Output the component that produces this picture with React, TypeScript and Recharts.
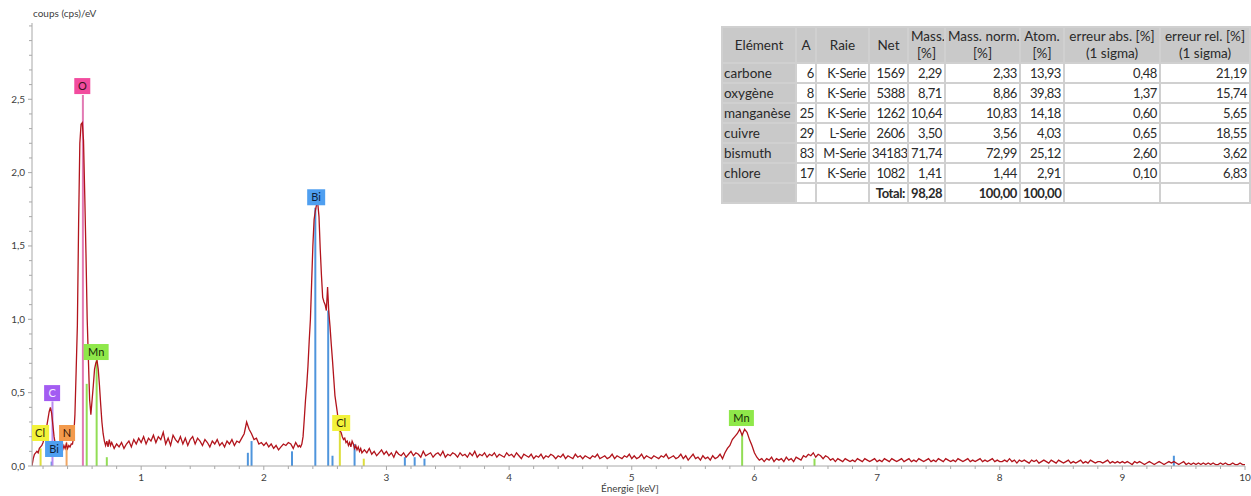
import React from 'react';
import { ComposedChart, Line, Scatter, XAxis, YAxis, ReferenceLine } from 'recharts';

// spectrum (counts per eV), in channel blocks
// 0.11 .. 0.75 keV, 0.01 keV channels
const countsLow = [
  0.0, 0.05, 0.08, 0.09, 0.1, 0.09, 0.12, 0.13, 0.14, 0.16,
  0.19, 0.22, 0.27, 0.32, 0.37, 0.4, 0.36, 0.28, 0.2, 0.15,
  0.12, 0.1, 0.09, 0.1, 0.12, 0.11, 0.14, 0.12, 0.15, 0.12,
  0.14, 0.13, 0.15, 0.15, 0.2, 0.35, 0.65, 0.96, 1.65, 2.2,
  2.33, 2.34, 2.22, 1.85, 1.45, 1.0, 0.72, 0.45, 0.35, 0.45,
  0.55, 0.66, 0.7, 0.72, 0.66, 0.55, 0.42, 0.3, 0.22, 0.17,
  0.14, 0.17, 0.13, 0.18, 0.14,
];
// 0.76 .. 2.28 keV, 0.02 keV channels
const countsMid = [
  0.16, 0.12, 0.15, 0.13, 0.16, 0.12, 0.15, 0.17, 0.13, 0.18,
  0.15, 0.19, 0.16, 0.2, 0.15, 0.19, 0.17, 0.21, 0.16, 0.2,
  0.18, 0.23, 0.15, 0.19, 0.14, 0.21, 0.18, 0.16, 0.2, 0.15,
  0.19, 0.14, 0.18, 0.2, 0.15, 0.19, 0.17, 0.14, 0.18, 0.16,
  0.13, 0.17, 0.15, 0.18, 0.14, 0.16, 0.13, 0.17, 0.15, 0.18,
  0.14, 0.17, 0.16, 0.19, 0.22, 0.3, 0.25, 0.22, 0.18, 0.19,
  0.15, 0.16, 0.14, 0.16, 0.13, 0.15, 0.12, 0.14, 0.11, 0.13,
  0.15, 0.14, 0.16, 0.15, 0.12, 0.16, 0.13,
];
// 2.29 .. 2.80 keV, 0.01 keV channels (Bi M)
const countsBi = [
  0.14, 0.13, 0.15, 0.2, 0.32, 0.45, 0.55, 0.68, 0.85, 1.0,
  1.25, 1.5, 1.68, 1.74, 1.78, 1.79, 1.7, 1.48, 1.3, 1.15,
  1.12, 1.1, 1.06, 1.22, 1.05, 0.95, 0.83, 0.72, 0.6, 0.48,
  0.42, 0.36, 0.28, 0.24, 0.23, 0.2, 0.18, 0.19, 0.16, 0.17,
  0.14, 0.16, 0.13, 0.17, 0.15, 0.12, 0.14, 0.11, 0.13, 0.1,
  0.12, 0.09,
];
// 2.82 .. 10.00 keV, 0.02 keV channels
const countsHigh = [
  0.11, 0.09, 0.12, 0.08, 0.1, 0.07, 0.09, 0.11, 0.08, 0.1,
  0.07, 0.09, 0.06, 0.1, 0.08, 0.07, 0.09, 0.06, 0.08, 0.1,
  0.07, 0.09, 0.08, 0.06, 0.1, 0.07, 0.08, 0.09, 0.06, 0.08,
  0.09, 0.07, 0.1, 0.06, 0.08, 0.07, 0.09, 0.08, 0.06, 0.09,
  0.07, 0.08, 0.06, 0.09, 0.07, 0.1, 0.06, 0.08, 0.07, 0.09,
  0.06, 0.08, 0.07, 0.09, 0.06, 0.08, 0.07, 0.06, 0.09, 0.07,
  0.08, 0.06, 0.09, 0.07, 0.05, 0.08, 0.07, 0.06, 0.08, 0.05,
  0.07, 0.06, 0.08, 0.05, 0.07, 0.06, 0.08, 0.07, 0.05, 0.07,
  0.06, 0.08, 0.05, 0.07, 0.06, 0.05, 0.08, 0.06, 0.07, 0.05,
  0.07, 0.06, 0.05, 0.07, 0.06, 0.08, 0.05, 0.06, 0.07, 0.05,
  0.06, 0.08, 0.05, 0.07, 0.06, 0.05, 0.07, 0.06, 0.08, 0.05,
  0.07, 0.05, 0.06, 0.08, 0.05, 0.07, 0.06, 0.05, 0.07, 0.06,
  0.05, 0.07, 0.06, 0.08, 0.05, 0.06, 0.07, 0.05, 0.06, 0.08,
  0.05, 0.07, 0.04, 0.06, 0.08, 0.05, 0.06, 0.04, 0.07, 0.05,
  0.06, 0.04, 0.07, 0.05, 0.06, 0.08, 0.05, 0.09, 0.12, 0.14,
  0.18, 0.2, 0.22, 0.25, 0.21, 0.25, 0.23, 0.18, 0.14, 0.09,
  0.06, 0.04, 0.05, 0.03, 0.05, 0.04, 0.06, 0.03, 0.05, 0.04,
  0.05, 0.03, 0.06, 0.04, 0.05, 0.03, 0.06, 0.05, 0.04, 0.07,
  0.06, 0.08, 0.07, 0.09, 0.06, 0.08, 0.07, 0.05, 0.07, 0.06,
  0.04, 0.05, 0.03, 0.05, 0.04, 0.03, 0.05, 0.04, 0.03, 0.04,
  0.03, 0.05, 0.04, 0.03, 0.05, 0.04, 0.03, 0.04, 0.05, 0.03,
  0.04, 0.03, 0.05, 0.04, 0.03, 0.05, 0.04, 0.03, 0.04, 0.05,
  0.03, 0.04, 0.05, 0.03, 0.04, 0.03, 0.05, 0.04, 0.03, 0.04,
  0.05, 0.03, 0.04, 0.03, 0.05, 0.04, 0.03, 0.05, 0.04, 0.03,
  0.04, 0.03, 0.05, 0.04, 0.03, 0.04, 0.05, 0.03, 0.04, 0.03,
  0.04, 0.05, 0.03, 0.04, 0.03, 0.04, 0.05, 0.03, 0.04, 0.03,
  0.03, 0.04, 0.03, 0.05, 0.03, 0.04, 0.02, 0.04, 0.03, 0.04,
  0.03, 0.02, 0.04, 0.03, 0.04, 0.02, 0.03, 0.04, 0.03, 0.02,
  0.04, 0.03, 0.02, 0.04, 0.03, 0.02, 0.03, 0.04, 0.02, 0.03,
  0.02, 0.03, 0.04, 0.02, 0.03, 0.02, 0.04, 0.03, 0.02, 0.03,
  0.03, 0.02, 0.03, 0.04, 0.02, 0.03, 0.02, 0.03, 0.02, 0.03,
  0.02, 0.03, 0.02, 0.01, 0.03, 0.02, 0.03, 0.02, 0.01, 0.02,
  0.03, 0.02, 0.01, 0.02, 0.03, 0.02, 0.01, 0.02, 0.03, 0.02,
  0.03, 0.02, 0.01, 0.02, 0.03, 0.01, 0.02, 0.01, 0.02, 0.01,
  0.02, 0.01, 0.02, 0.01, 0.02, 0.01, 0.02, 0.01, 0.01, 0.02,
  0.01, 0.02, 0.01, 0.01, 0.02, 0.01, 0.01, 0.02, 0.01, 0.01,
];

const blocks = [
  { start: 0.11, step: 0.01, counts: countsLow },
  { start: 0.76, step: 0.02, counts: countsMid },
  { start: 2.29, step: 0.01, counts: countsBi },
  { start: 2.82, step: 0.02, counts: countsHigh },
];

// element marker lines (keV, height)
const markerElements = ['Cl', 'Bi', 'C', 'N', 'O', 'Mn', 'Mn', 'Mn', 'Bi', 'Bi', 'Bi', 'Bi', 'Bi', 'Bi', 'Cl', 'Bi', 'Cl', 'Bi', 'Bi', 'Bi', 'Mn', 'Mn', 'Bi'];
const markerEnergies = [0.18, 0.27, 0.277, 0.392, 0.525, 0.556, 0.637, 0.72, 1.87, 1.9, 2.23, 2.42, 2.525, 2.56, 2.62, 2.74, 2.815, 3.15, 3.23, 3.31, 5.9, 6.49, 9.42];
const markerHeights = [0.12, 0.03, 0.44, 0.16, 2.53, 0.56, 0.72, 0.06, 0.09, 0.17, 0.1, 1.76, 1.06, 0.07, 0.24, 0.15, 0.05, 0.06, 0.06, 0.05, 0.22, 0.05, 0.07];

// element tags
const tagElements = ['O', 'Mn', 'C', 'Cl', 'N', 'Bi', 'Bi', 'Cl', 'Mn'];
const tagEnergies = [0.52, 0.633, 0.274, 0.176, 0.396, 0.29, 2.427, 2.631, 5.894];
const tagLevels = [2.59, 0.777, 0.497, 0.225, 0.225, 0.116, 1.832, 0.293, 0.327];

// quantification table
const tableNames = ['carbone', 'oxygène', 'manganèse', 'cuivre', 'bismuth', 'chlore'];
const tableZ = ['6', '8', '25', '29', '83', '17'];
const tableLine = ['K-Serie', 'K-Serie', 'K-Serie', 'L-Serie', 'M-Serie', 'K-Serie'];
const tableNet = ['1569', '5388', '1262', '2606', '34183', '1082'];
const tableMass = ['2,29', '8,71', '10,64', '3,50', '71,74', '1,41'];
const tableMassNorm = ['2,33', '8,86', '10,83', '3,56', '72,99', '1,44'];
const tableAtom = ['13,93', '39,83', '14,18', '4,03', '25,12', '2,91'];
const tableErrAbs = ['0,48', '1,37', '0,60', '0,65', '2,60', '0,10'];
const tableErrRel = ['21,19', '15,74', '5,65', '18,55', '3,62', '6,83'];
const tableTotals = ['98,28', '100,00', '100,00'];

const xMajorTicks = [1, 2, 3, 4, 5, 6, 7, 8, 9, 10];
const yMajorTicks = [0, 0.5, 1, 1.5, 2, 2.5];

const ELEMENT_COLORS: Record<string, { box: string; line: string; text: string }> = {
  O: { box: '#f24b9e', line: '#e27ab4', text: '#3a1020' },
  Mn: { box: '#8fe84a', line: '#92dd55', text: '#142a08' },
  C: { box: '#a35cf2', line: '#b98af0', text: '#f4ecff' },
  Cl: { box: '#f2f23a', line: '#dede3c', text: '#2a2a08' },
  N: { box: '#f39a4c', line: '#f0a663', text: '#2e1606' },
  Bi: { box: '#4f9ff0', line: '#4f95dc', text: '#0d1f3a' },
};

const spectrum = blocks.flatMap((b) =>
  b.counts.map((c, i) => ({ energy: Math.round((b.start + i * b.step) * 1000) / 1000, counts: c }))
);

const tags = tagElements.map((el, i) => ({ el, energy: tagEnergies[i], counts: tagLevels[i] }));

// minor ticks every 0.2 keV and 0.1 cps/eV
const xTicks: number[] = [];
for (let i = 1; i <= 50; i++) xTicks.push(Math.round(i * 2) / 10);
const yTicks: number[] = [];
for (let i = 0; i <= 30; i++) yTicks.push(Math.round(i) / 10);

const AXIS_COLOR = '#a8a8a8';
const TEXT_COLOR = '#404040';
const FONT = 'Lato, "Open Sans", sans-serif';

const isMajor = (v: number, list: number[]) => list.some((t) => Math.abs(t - v) < 1e-6);

const XTick = (props: any) => {
  const { x, y, payload } = props;
  const major = isMajor(payload.value, xMajorTicks);
  return (
    <g>
      <line x1={x} x2={x} y1={y} y2={y + (major ? 4 : 3)} stroke={AXIS_COLOR} />
      {major && (
        <text x={x} y={y + 15} textAnchor="middle" fontSize={10} fill={TEXT_COLOR} fontFamily={FONT}>
          {payload.value}
        </text>
      )}
    </g>
  );
};

const YTick = (props: any) => {
  const { x, y, payload } = props;
  const major = isMajor(payload.value, yMajorTicks);
  return (
    <g>
      <line x1={x} x2={x - (major ? 4 : 3)} y1={y} y2={y} stroke={AXIS_COLOR} />
      {major && (
        <text x={x - 7} y={y + 3.5} textAnchor="end" fontSize={10} fill={TEXT_COLOR} fontFamily={FONT}>
          {payload.value.toFixed(1).replace('.', ',')}
        </text>
      )}
    </g>
  );
};

const TagShape = (props: any) => {
  const { cx, cy, payload } = props;
  const c = ELEMENT_COLORS[payload.el];
  const w = payload.el === 'Mn' ? 25 : payload.el.length === 1 ? 16 : 18;
  const h = 16;
  return (
    <g>
      <rect x={cx - w / 2} y={cy - h / 2} width={w} height={h} fill={c.box} />
      <text x={cx} y={cy + 4} textAnchor="middle" fontSize={11} fill={c.text} fontFamily={FONT}>
        {payload.el}
      </text>
    </g>
  );
};

const cellBase: React.CSSProperties = {
  border: '2px solid #d0d0d0',
  padding: '0 2px',
  height: 18,
  whiteSpace: 'nowrap',
  lineHeight: '16px',
  overflow: 'hidden',
};
const grayCell: React.CSSProperties = { ...cellBase, background: '#c9c9c9', fontSize: 13.5, paddingLeft: 1 };
const numCell: React.CSSProperties = { ...cellBase, background: '#fff', textAlign: 'right', letterSpacing: -0.4 };
const zCell: React.CSSProperties = { ...numCell, padding: '0 1px' };
const headCell: React.CSSProperties = {
  ...cellBase,
  background: '#c9c9c9',
  textAlign: 'center',
  height: 34,
  lineHeight: '17px',
  fontWeight: 'normal',
  fontSize: 13.5,
};

const ResultTable = () => (
  <table
    style={{
      position: 'absolute',
      left: 721,
      top: 26,
      width: 528,
      borderCollapse: 'collapse',
      fontFamily: FONT,
      fontSize: 13,
      color: '#2a2a2a',
      background: '#fff',
      tableLayout: 'fixed',
    }}
  >
    <colgroup>
      <col style={{ width: 74 }} />
      <col style={{ width: 20 }} />
      <col style={{ width: 53 }} />
      <col style={{ width: 39 }} />
      <col style={{ width: 37 }} />
      <col style={{ width: 75 }} />
      <col style={{ width: 44 }} />
      <col style={{ width: 96 }} />
      <col style={{ width: 90 }} />
    </colgroup>
    <thead>
      <tr>
        <th style={headCell}>Elément</th>
        <th style={headCell}>A</th>
        <th style={headCell}>Raie</th>
        <th style={headCell}>Net</th>
        <th style={headCell}>Mass.<br />[%]</th>
        <th style={headCell}>Mass. norm.<br />[%]</th>
        <th style={headCell}>Atom.<br />[%]</th>
        <th style={headCell}>erreur abs. [%]<br />(1 sigma)</th>
        <th style={headCell}>erreur rel. [%]<br />(1 sigma)</th>
      </tr>
    </thead>
    <tbody>
      {tableNames.map((name, i) => (
        <tr key={name}>
          <td style={grayCell}>{name}</td>
          <td style={zCell}>{tableZ[i]}</td>
          <td style={numCell}>{tableLine[i]}</td>
          <td style={numCell}>{tableNet[i]}</td>
          <td style={numCell}>{tableMass[i]}</td>
          <td style={numCell}>{tableMassNorm[i]}</td>
          <td style={numCell}>{tableAtom[i]}</td>
          <td style={numCell}>{tableErrAbs[i]}</td>
          <td style={numCell}>{tableErrRel[i]}</td>
        </tr>
      ))}
      <tr>
        <td style={grayCell}></td>
        <td style={zCell}></td>
        <td style={numCell}></td>
        <td style={{ ...numCell, fontWeight: 'bold' }}>Total:</td>
        <td style={{ ...numCell, fontWeight: 'bold' }}>{tableTotals[0]}</td>
        <td style={{ ...numCell, fontWeight: 'bold' }}>{tableTotals[1]}</td>
        <td style={{ ...numCell, fontWeight: 'bold' }}>{tableTotals[2]}</td>
        <td style={numCell}></td>
        <td style={numCell}></td>
      </tr>
    </tbody>
  </table>
);

export default function App() {
  return (
    <div style={{ position: 'absolute', left: 0, top: 0, width: 1251, height: 496, background: '#fff', fontFamily: FONT }}>
      <ComposedChart width={1251} height={496} data={spectrum} margin={{ top: 23, right: 6, bottom: 0, left: 0 }}>
        <XAxis
          dataKey="energy"
          type="number"
          domain={[0.11, 10]}
          ticks={xTicks}
          interval={0}
          allowDataOverflow
          height={30}
          tickSize={0}
          tickMargin={0}
          tick={<XTick />}
          stroke={AXIS_COLOR}
        />
        <YAxis
          type="number"
          domain={[0, 3.02]}
          ticks={yTicks}
          interval={0}
          allowDataOverflow
          width={32}
          tickSize={0}
          tickMargin={0}
          tick={<YTick />}
          stroke={AXIS_COLOR}
        />
        {markerElements.map((el, i) => (
          <ReferenceLine
            key={`m-${i}`}
            segment={[
              { x: markerEnergies[i], y: 0 },
              { x: markerEnergies[i], y: markerHeights[i] },
            ]}
            stroke={ELEMENT_COLORS[el].line}
            strokeWidth={2}
          />
        ))}
        <Line
          dataKey="counts"
          type="linear"
          stroke="#b2141c"
          strokeWidth={1.3}
          dot={false}
          isAnimationActive={false}
        />
        <Scatter data={tags} dataKey="counts" shape={<TagShape />} isAnimationActive={false} />
      </ComposedChart>
      <div style={{ position: 'absolute', left: 33, top: 7, fontSize: 10, color: TEXT_COLOR }}>coups (cps)/eV</div>
      <div style={{ position: 'absolute', left: 601, top: 482, fontSize: 10, color: TEXT_COLOR }}>Énergie [keV]</div>
      <ResultTable />
    </div>
  );
}
